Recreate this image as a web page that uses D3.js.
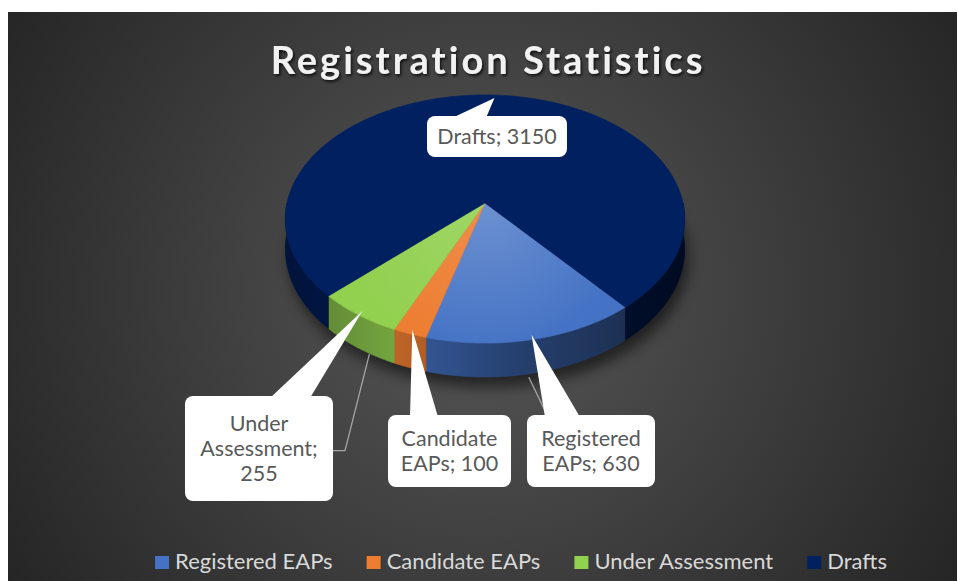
<!DOCTYPE html>
<html>
<head>
<meta charset="utf-8">
<script src="https://cdn.jsdelivr.net/npm/d3@7"></script>
<style>
  html, body { margin: 0; padding: 0; background: #fff; }
  svg { display: block; }
  text { font-family: Lato, "Open Sans", sans-serif; }
</style>
</head>
<body>
<svg id="chart"></svg>
<script>
// chart data
const categories = ['Registered EAPs', 'Candidate EAPs', 'Under Assessment', 'Drafts'];
const values = [630, 100, 255, 3150];
const colors = ['#4472C4', '#ED7D31', '#92D050', '#002060'];
const highlight = [0.22, 0.12, 0.12, 0.0];

// callout boxes (layout): x, y, w, h, wedge base on top edge (relative x0, x1)
const callouts = [
  {x: 527, y: 415, w: 128, h: 72, b0: 18, b1: 53, leader: true},
  {x: 388, y: 415, w: 123, h: 72, b0: 22, b1: 50, leader: false},
  {x: 185, y: 396, w: 148, h: 105, b0: 85, b1: 125, leader: true},
  {x: 427, y: 116, w: 140, h: 41, b0: 25, b1: 59, leader: false}
];

const W = 958, H = 581;
const pie3d = {cx: 485, cy: 203, rx: 198, ry: 122, k: 0.129, depth: 29.6, start: 140.3};

const svg = d3.select('#chart').attr('width', W).attr('height', H);
const defs = svg.append('defs');

// background
const bg = defs.append('radialGradient').attr('id', 'bg')
    .attr('gradientUnits', 'userSpaceOnUse')
    .attr('cx', 482).attr('cy', 290).attr('r', 560);
bg.append('stop').attr('offset', 0).attr('stop-color', '#575757');
bg.append('stop').attr('offset', 1).attr('stop-color', '#252525');
svg.append('rect').attr('x', 8).attr('y', 12).attr('width', 949).attr('height', H - 12)
    .attr('fill', 'url(#bg)');

const shadowF = defs.append('filter').attr('id', 'tshadow')
    .attr('x', '-10%').attr('y', '-30%').attr('width', '120%').attr('height', '160%');
shadowF.append('feDropShadow').attr('dx', 1.5).attr('dy', 2).attr('stdDeviation', 1.5)
    .attr('flood-color', '#000').attr('flood-opacity', 0.75);

const blurF = defs.append('filter').attr('id', 'blur')
    .attr('x', '-20%').attr('y', '-20%').attr('width', '140%').attr('height', '140%');
blurF.append('feGaussianBlur').attr('stdDeviation', 7);

// title
svg.append('text')
    .attr('x', 488).attr('y', 74)
    .attr('text-anchor', 'middle')
    .attr('font-size', 38).attr('font-weight', 700)
    .attr('letter-spacing', 3)
    .attr('fill', '#f2f2f2')
    .attr('filter', 'url(#tshadow)')
    .text('Registration Statistics');

// projection of a point on the pie (angle in radians, clockwise from back)
function proj(a, z = 0, r = 1) {
  const sx = r * Math.sin(a), sy = -r * Math.cos(a);
  const d = 1 - pie3d.k * sy;
  return [pie3d.cx + pie3d.rx * sx / d, pie3d.cy + (pie3d.ry * sy + z * pie3d.depth) / d];
}
function arcPts(a0, a1, z) {
  const n = Math.max(2, Math.ceil(Math.abs(a1 - a0) / (Math.PI / 180)));
  return d3.range(n + 1).map(i => proj(a0 + (a1 - a0) * i / n, z));
}
const line = d3.line();

const startRad = pie3d.start * Math.PI / 180;
const arcs = d3.pie().sort(null).startAngle(startRad).endAngle(startRad + 2 * Math.PI)(values);

// drop shadow under the pie
const shadowPts = arcPts(0, 2 * Math.PI, 1).map(p => [p[0] + 4, p[1] + 10]);
svg.append('path').attr('d', line(shadowPts) + 'Z')
    .attr('fill', '#000').attr('opacity', 0.55).attr('filter', 'url(#blur)');

// side wall gradients
const left = pie3d.cx - pie3d.rx * 1.01, right = pie3d.cx + pie3d.rx * 1.01;
colors.forEach((c, i) => {
  const g = defs.append('linearGradient').attr('id', 'side' + i)
      .attr('gradientUnits', 'userSpaceOnUse')
      .attr('x1', left).attr('x2', right).attr('y1', 0).attr('y2', 0);
  [[0, 0.6], [0.28, 0.8], [0.6, 0.55], [1, 0.35]].forEach(([o, f]) => {
    const col = d3.rgb(c);
    g.append('stop').attr('offset', o)
        .attr('stop-color', d3.rgb(col.r * f, col.g * f, col.b * f).formatHex());
  });
  const t = defs.append('radialGradient').attr('id', 'top' + i)
      .attr('gradientUnits', 'userSpaceOnUse')
      .attr('cx', pie3d.cx).attr('cy', pie3d.cy).attr('r', 150);
  t.append('stop').attr('offset', 0).attr('stop-color', d3.interpolateRgb(c, '#ffffff')(highlight[i]));
  t.append('stop').attr('offset', 1).attr('stop-color', c);
});

// visible outer walls (front half)
const walls = svg.append('g');
arcs.forEach((d, i) => {
  [-2, 0, 2].forEach(s => {
    const lo = Math.max(d.startAngle, Math.PI / 2 + s * Math.PI);
    const hi = Math.min(d.endAngle, 1.5 * Math.PI + s * Math.PI);
    if (hi > lo) {
      const pts = arcPts(lo, hi, 0).concat(arcPts(hi, lo, 1));
      walls.append('path').attr('d', line(pts) + 'Z')
          .attr('fill', `url(#side${i})`)
          .attr('stroke', `url(#side${i})`).attr('stroke-width', 0.6);
    }
  });
});

// top faces
const tops = svg.append('g');
arcs.forEach((d, i) => {
  const pts = [proj(0, 0, 0)].concat(arcPts(d.startAngle, d.endAngle, 0));
  tops.append('path').attr('d', line(pts) + 'Z')
      .attr('fill', `url(#top${i})`)
      .attr('stroke', `url(#top${i})`).attr('stroke-width', 0.6);
});

// leader lines
const labels = svg.append('g');
arcs.forEach((d, i) => {
  const c = callouts[i];
  if (!c.leader) return;
  const mid = (d.startAngle + d.endAngle) / 2;
  const end = proj(mid, 1.5, 0.92);
  let pts;
  if (end[0] > c.x + c.w) pts = [[c.x + c.w, c.y + c.h * 0.52], [c.x + c.w + 12, c.y + c.h * 0.52], end];
  else pts = [[c.x + 20, c.y], end];
  labels.append('path').attr('d', line(pts))
      .attr('fill', 'none').attr('stroke', '#a6a6a6').attr('stroke-width', 1.3);
});

// callouts
arcs.forEach((d, i) => {
  const c = callouts[i];
  const mid = (d.startAngle + d.endAngle) / 2;
  const tip = proj(mid, 0, 0.97);
  const g = labels.append('g');
  g.append('path')
      .attr('d', line([[c.x + c.b0, c.y + 2], tip, [c.x + c.b1, c.y + 2]]) + 'Z')
      .attr('fill', '#fff');
  g.append('rect').attr('x', c.x).attr('y', c.y).attr('width', c.w).attr('height', c.h)
      .attr('rx', 8).attr('fill', '#fff');

  // wrap "name; value" into the box
  const words = `${categories[i]}; ${values[i]}`.split(' ');
  const txt = g.append('text').attr('font-size', 21.5).attr('fill', '#595959')
      .attr('text-anchor', 'middle');
  const probe = txt.append('tspan');
  const lines = [];
  let cur = '';
  words.forEach(w => {
    const tryL = cur ? cur + ' ' + w : w;
    probe.text(tryL);
    if (cur && probe.node().getComputedTextLength() > c.w - 14) { lines.push(cur); cur = w; }
    else cur = tryL;
  });
  lines.push(cur);
  probe.remove();
  const lh = 25;
  const y0 = c.y + c.h / 2 - (lines.length - 1) * lh / 2 + 7.5;
  lines.forEach((l, j) => {
    txt.append('tspan').attr('x', c.x + c.w / 2).attr('y', y0 + j * lh).text(l);
  });
});

// legend
const legend = svg.append('g');
const items = categories.map((name, i) => {
  const g = legend.append('g');
  g.append('rect').attr('width', 14).attr('height', 13).attr('y', -13).attr('fill', colors[i]);
  const t = g.append('text').attr('x', 20).attr('font-size', 22).attr('fill', '#d9d9d9').text(name);
  return {g, w: 20 + t.node().getComputedTextLength()};
});
const gap = 34;
const total = d3.sum(items, d => d.w) + gap * (items.length - 1);
let lx = 521 - total / 2;
items.forEach(it => {
  it.g.attr('transform', `translate(${lx},569)`);
  lx += it.w + gap;
});
</script>
</body>
</html>
